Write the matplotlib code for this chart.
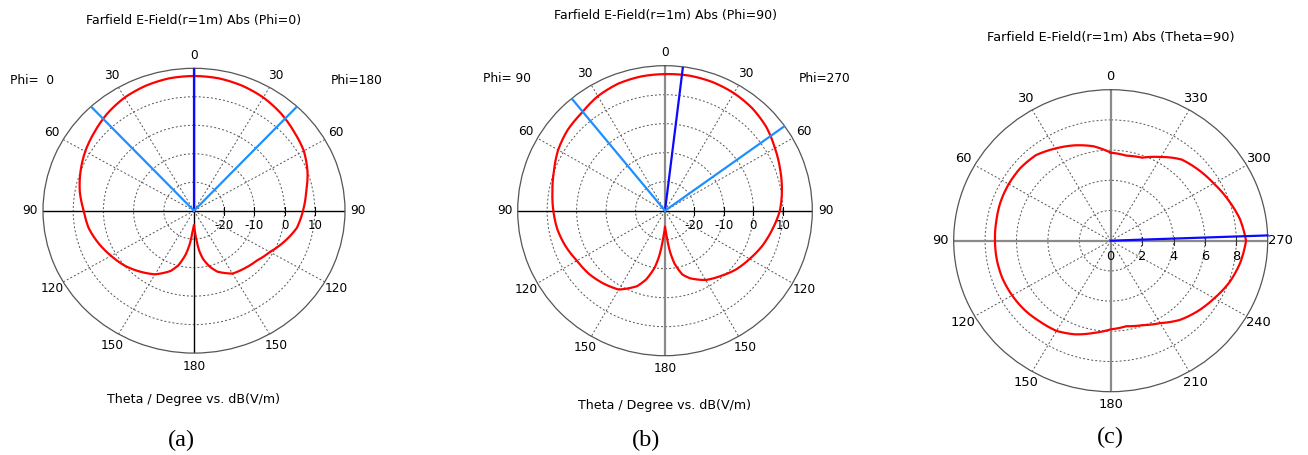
import numpy as np
import matplotlib
matplotlib.use("Agg")
import matplotlib.pyplot as plt
from matplotlib.transforms import ScaledTranslation

# ---- Data -------------------------------------------------------------
# Elevation cuts: theta (deg) from boresight, field in dB(V/m)
theta_cut = [0, 10, 20, 30, 40, 50, 60, 70, 80, 90, 100, 110, 120, 130,
             140, 150, 160, 165, 170, 173, 176, 178, 180]

# (a) Phi = 0 / Phi = 180 plane
e_phi0 = [17.3, 17.2, 16.7, 15.9, 14.6, 13.0, 11.6, 10.0, 8.4, 6.5, 5.4,
          3.6, 1.7, 0.0, -2.1, -4.2, -7.5, -10.2, -14.5, -18.0, -22.5,
          -24.0, -25.0]
e_phi180 = [17.3, 17.2, 16.7, 15.9, 14.7, 13.2, 12.0, 10.0, 7.7, 6.1, 4.6,
            1.8, -1.0, -2.8, -3.7, -4.5, -7.2, -9.6, -12.8, -15.8, -20.5,
            -23.0, -25.0]

# (b) Phi = 90 / Phi = 270 plane
e_phi90 = [17.1, 17.0, 16.6, 15.6, 14.0, 13.2, 11.9, 10.1, 8.8, 7.9, 7.1,
           5.9, 4.5, 3.8, 2.7, 1.4, -2.3, -5.5, -10.2, -14.5, -20.0, -22.5,
           -24.5]
e_phi270 = [17.1, 17.3, 17.2, 16.8, 16.1, 14.9, 13.1, 11.6, 10.3, 9.0, 7.0,
            5.2, 3.2, 1.5, -0.6, -2.4, -5.2, -7.2, -11.5, -15.5, -20.8,
            -23.0, -24.5]

# Main-lobe direction and 3 dB beam edges (theta, deg) for each cut
main_a, edge_a_left, edge_a_right = 0.0, 43.0, 43.0      # left = Phi 0
main_b_right, edge_b_left, edge_b_right = 7.0, 39.3, 54.3  # left = Phi 90

# (c) Azimuth cut at Theta = 90: phi (deg) and field
phi_c = [0, 10, 20, 30, 40, 50, 60, 70, 80, 90, 100, 110, 120, 130, 140,
         150, 160, 170, 180, 190, 200, 210, 220, 230, 240, 250, 260, 270,
         280, 290, 300, 310, 320, 325, 330, 340, 350, 360]
e_theta90 = [5.83, 6.35, 6.72, 7.05, 7.40, 7.50, 7.50, 7.47, 7.40, 7.37,
             7.36, 7.33, 7.25, 7.15, 7.00, 6.90, 6.60, 6.20, 5.87, 5.75,
             5.95, 6.30, 6.85, 7.25, 7.62, 8.05, 8.38, 8.62, 8.35, 7.95,
             7.58, 7.30, 7.02, 6.72, 6.40, 5.85, 5.72, 5.83]
main_c = 272.0

# Grid and labels
rings_db = [-20, -10, 0, 10]
ring_labels_db = ["-20", "-10", "0", "10"]
rings_c = [2, 4, 6, 8]
ring_labels_c = ["0", "2", "4", "6", "8"]
theta_tick_labels = ["0", "30", "60", "90", "120", "150", "180",
                     "150", "120", "90", "60", "30"]
phi_tick_labels = [str(v) for v in range(0, 360, 30)]

RED = "#ff0000"
MAIN_BLUE = "#0a0aff"
EDGE_BLUE = "#1e8fff"
GRID = "#555555"
FONT = "DejaVu Sans"

W, H = 1308, 455
fig = plt.figure(figsize=(W / 100, H / 100), dpi=100)
fig.patch.set_facecolor("white")


def rect_from_px(x0, x1, y0, y1):
    return [x0 / W, 1 - y1 / H, (x1 - x0) / W, (y1 - y0) / H]


def fig_text(x, y, s, size=9.0, family=FONT, **kw):
    fig.text(x / W, 1 - y / H, s, ha="center", va="center",
             fontsize=size, family=family, **kw)


def setup_polar(rect, rmin, rmax, rings, tick_labels, vcolor, hcolor,
                label_size=8.7):
    ax = fig.add_axes(rect, projection="polar")
    ax.set_theta_zero_location("N")
    ax.set_theta_direction(1)
    ax.set_aspect("auto")
    ax.set_ylim(rmin, rmax)
    ax.set_xticks(np.deg2rad(np.arange(0, 360, 30)))
    ax.set_xticklabels(tick_labels, fontsize=label_size, family=FONT)
    ax.set_yticks(rings)
    ax.set_yticklabels([])
    ax.tick_params(axis="x", pad=2.5, length=0)
    ax.tick_params(axis="y", length=0)
    ax.grid(True, color=GRID, lw=0.7, ls=(0, (2.0, 2.2)))
    ax.spines["polar"].set_color("#555555")
    ax.spines["polar"].set_linewidth(0.9)
    # solid cross-hair axes
    for a in (0, 180):
        ax.plot([np.deg2rad(a)] * 2, [rmin, rmax], color=vcolor,
                lw=1.0 if vcolor == "black" else 1.6, zorder=2)
    for a in (90, 270):
        ax.plot([np.deg2rad(a)] * 2, [rmin, rmax], color=hcolor,
                lw=1.0 if hcolor == "black" else 1.6, zorder=2)
    return ax


def radial_labels(ax, values, labels, dy_px, size=8.5):
    off = ScaledTranslation(0, -dy_px / 100, fig.dpi_scale_trans)
    for v, s in zip(values, labels):
        ax.text(np.deg2rad(270), v, s, ha="center", va="center",
                fontsize=size, family=FONT, transform=ax.transData + off,
                zorder=5)


def pattern_line(ax, ang, val):
    # draw segments as polar spirals (linear in angle and radius)
    line, = ax.plot(ang, val, color=RED, lw=1.6, zorder=4)
    line.get_path()._interpolation_steps = 24
    return line


def cut_curve(theta, left, right):
    ang = list(theta) + [360 - t for t in reversed(theta)]
    val = list(left) + list(reversed(right))
    return np.deg2rad(ang), np.array(val)


# ---- (a) -------------------------------------------------------------
ax_a = setup_polar(rect_from_px(43, 345, 68.3, 353.1), -30, 20, rings_db,
                   theta_tick_labels, "black", "black")
ax_a.plot([np.deg2rad(270)] * len(rings_db), rings_db, ls="none",
          marker="|", ms=6, mew=0.8, color="black", zorder=3)
radial_labels(ax_a, rings_db, ring_labels_db, 14.5)
pattern_line(ax_a, *cut_curve(theta_cut, e_phi0, e_phi180))
ax_a.plot([np.deg2rad(main_a)] * 2, [-30, 20], color=MAIN_BLUE, lw=1.6,
          zorder=4)
ax_a.plot([np.deg2rad(edge_a_left)] * 2, [-30, 20], color=EDGE_BLUE,
          lw=1.6, zorder=4)
ax_a.plot([np.deg2rad(360 - edge_a_right)] * 2, [-30, 20], color=EDGE_BLUE,
          lw=1.6, zorder=4)

fig_text(194, 20.7, "Farfield E-Field(r=1m) Abs (Phi=0)")
fig_text(32, 80.7, "Phi=  0", size=8.7)
fig_text(357, 80.7, "Phi=180", size=8.7)
fig_text(193.3, 399.3, "Theta / Degree vs. dB(V/m)", size=9.1)
fig_text(181.7, 440, "(a)", size=17.5, family="Liberation Serif")

# ---- (b) -------------------------------------------------------------
ax_b = setup_polar(rect_from_px(517.7, 812.3, 65.7, 355.7), -30, 20,
                   rings_db, theta_tick_labels, "#8a8a8a", "black")
ax_b.plot([np.deg2rad(270)] * len(rings_db), rings_db, ls="none",
          marker="|", ms=6, mew=0.8, color="black", zorder=3)
radial_labels(ax_b, rings_db, ring_labels_db, 15)
pattern_line(ax_b, *cut_curve(theta_cut, e_phi90, e_phi270))
ax_b.plot([np.deg2rad(360 - main_b_right)] * 2, [-30, 20], color=MAIN_BLUE,
          lw=1.6, zorder=4)
ax_b.plot([np.deg2rad(edge_b_left)] * 2, [-30, 20], color=EDGE_BLUE,
          lw=1.6, zorder=4)
ax_b.plot([np.deg2rad(360 - edge_b_right)] * 2, [-30, 20], color=EDGE_BLUE,
          lw=1.6, zorder=4)

fig_text(665, 16, "Farfield E-Field(r=1m) Abs (Phi=90)")
fig_text(506.7, 78.3, "Phi= 90", size=8.7)
fig_text(824.3, 78.3, "Phi=270", size=8.7)
fig_text(665, 405.7, "Theta / Degree vs. dB(V/m)", size=9.1)
fig_text(645.7, 440, "(b)", size=17.5, family="Liberation Serif")

# ---- (c) -------------------------------------------------------------
ax_c = setup_polar(rect_from_px(953.7, 1267.7, 89.7, 391.7), 0, 10,
                   rings_c, phi_tick_labels, "#8a8a8a", "#8a8a8a",
                   label_size=9.4)
ax_c.plot([np.deg2rad(270)] * len(rings_c), rings_c, ls="none",
          marker="|", ms=6, mew=0.8, color="#333333", zorder=3)
radial_labels(ax_c, [0] + rings_c, ring_labels_c, 16, size=9.4)
pattern_line(ax_c, np.deg2rad(phi_c), np.array(e_theta90))
ax_c.plot([np.deg2rad(main_c)] * 2, [0, 10], color=MAIN_BLUE, lw=1.6,
          zorder=4, clip_on=False)

fig_text(1111.2, 37.7, "Farfield E-Field(r=1m) Abs (Theta=90)", size=9.3)
fig_text(1110, 437, "(c)", size=17.5, family="Liberation Serif")

fig.savefig("out.png", dpi=100, facecolor="white")
